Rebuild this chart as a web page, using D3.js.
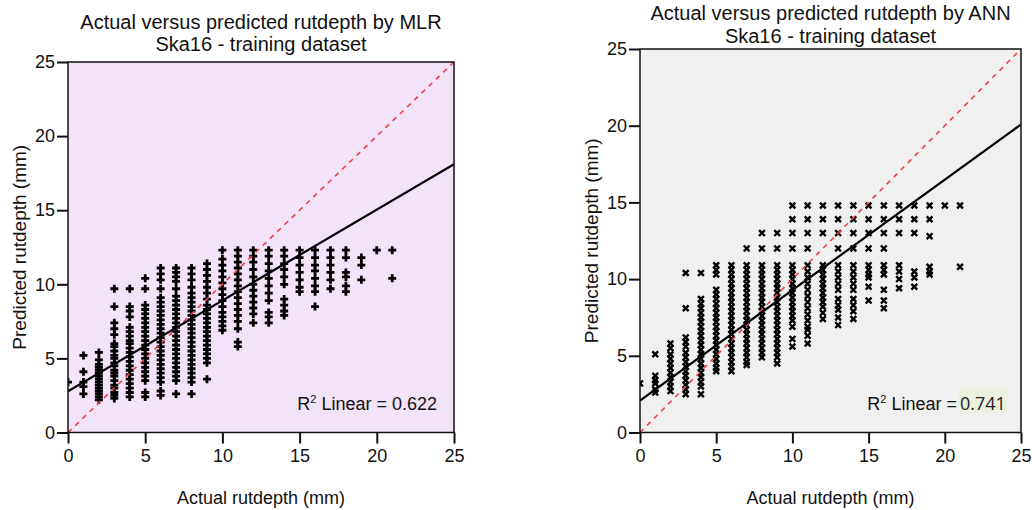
<!DOCTYPE html>
<html>
<head>
<meta charset="utf-8">
<script src="https://cdn.jsdelivr.net/npm/d3@7"></script>
<style>
  body { margin: 0; background: #fff; }
  svg { font-family: "Liberation Sans", Arial, sans-serif; }
</style>
</head>
<body>
<svg id="chart" width="1032" height="510"></svg>
<script>
// actual rutdepth (mm) for each column of points
const actualValues = [0, 1, 2, 3, 4, 5, 6, 7, 8, 9, 10, 11, 12, 13, 14, 15, 16, 17, 18, 19, 20, 21]

// MLR predictions, one list per actual value
const mlrPredicted = [
  [3.4],
  [5.2, 4.1, 3.4, 3.1, 2.6],
  [5.4, 4.9, 4.6, 4.4, 4.2, 4.0, 3.8, 3.6, 3.4, 3.2, 3.0, 2.8, 2.6, 2.4, 2.2],
  [9.7, 8.5, 7.4, 7.0, 6.6, 6.0, 5.8, 5.5, 5.2, 5.0, 4.7, 4.5, 4.2, 4.0, 3.8, 3.5, 3.2, 3.0, 2.7, 2.5, 2.3],
  [9.7, 8.5, 8.2, 7.8, 7.1, 6.8, 6.5, 6.2, 6.0, 5.7, 5.4, 5.1, 4.8, 4.5, 4.2, 3.9, 3.6, 3.3, 3.0, 2.7, 2.4],
  [10.4, 9.7, 8.6, 8.3, 8.0, 7.7, 7.4, 7.1, 6.8, 6.5, 6.2, 5.9, 5.6, 5.3, 5.0, 4.7, 4.4, 4.1, 3.8, 3.5, 2.7, 2.4],
  [11.1, 10.7, 10.3, 9.7, 9.1, 8.8, 8.5, 8.2, 7.9, 7.6, 7.3, 7.0, 6.7, 6.4, 6.1, 5.8, 5.5, 5.2, 4.9, 4.6, 4.3, 4.0, 3.7, 3.4, 2.8, 2.5],
  [11.1, 10.8, 10.5, 10.2, 9.7, 9.2, 8.9, 8.6, 8.3, 8.0, 7.7, 7.4, 7.1, 6.8, 6.5, 6.2, 5.9, 5.6, 5.3, 5.0, 4.7, 4.4, 4.1, 3.8, 3.5, 2.6],
  [11.1, 10.7, 10.3, 9.8, 9.4, 9.1, 8.8, 8.5, 8.2, 7.9, 7.6, 7.3, 7.0, 6.7, 6.4, 6.1, 5.8, 5.5, 5.2, 4.9, 4.6, 4.3, 4.0, 3.7, 3.4, 2.6],
  [11.4, 11.0, 10.6, 10.2, 9.8, 9.4, 9.0, 8.6, 8.3, 8.0, 7.7, 7.4, 7.1, 6.8, 6.5, 6.2, 5.9, 5.6, 5.3, 5.0, 4.7, 3.6],
  [12.3, 11.7, 11.3, 10.9, 10.5, 10.1, 9.7, 9.3, 8.9, 8.5, 8.1, 7.8, 7.5, 7.2, 6.9],
  [12.3, 11.9, 11.5, 11.1, 10.7, 10.3, 9.9, 9.5, 9.1, 8.7, 8.3, 7.9, 7.5, 7.0, 6.1, 5.8],
  [12.3, 11.9, 11.5, 11.0, 10.5, 10.0, 9.6, 9.2, 8.8, 8.4, 8.0, 7.4],
  [12.3, 11.9, 11.4, 10.9, 10.4, 9.9, 9.4, 8.9, 8.1, 7.8, 7.4],
  [12.3, 11.9, 11.4, 11.0, 10.5, 10.0, 9.0, 8.6, 8.2, 7.9],
  [12.3, 11.8, 11.3, 10.8, 10.3, 9.8, 9.5],
  [12.3, 11.8, 11.3, 10.9, 10.4, 9.9, 9.5, 8.5],
  [12.3, 11.8, 11.3, 10.8, 10.3, 9.7],
  [12.3, 11.8, 10.8, 10.5, 9.9, 9.5],
  [11.8, 11.3, 10.3],
  [12.3],
  [12.3, 10.4]
]

// ANN predictions, one list per actual value
const annPredicted = [
  [3.2],
  [5.1, 3.7, 3.4, 3.2, 2.8, 2.6],
  [5.8, 5.5, 5.1, 4.8, 4.5, 4.2, 3.9, 3.6, 3.3, 3.0, 2.7],
  [10.4, 8.1, 6.2, 5.9, 5.6, 5.2, 4.9, 4.6, 4.3, 4.0, 3.7, 3.4, 3.1, 2.8, 2.5],
  [10.4, 8.7, 8.4, 8.1, 7.8, 7.5, 7.2, 6.9, 6.6, 6.3, 6.0, 5.7, 5.4, 5.1, 4.8, 4.5, 4.2, 3.9, 3.6, 3.3, 3.0, 2.5],
  [10.9, 10.6, 10.3, 9.3, 9.0, 8.7, 8.4, 8.1, 7.8, 7.5, 7.2, 6.9, 6.6, 6.3, 6.0, 5.7, 5.4, 5.1, 4.8, 4.5, 4.2, 4.0],
  [10.9, 10.6, 10.3, 10.0, 9.7, 9.4, 9.1, 8.8, 8.5, 8.2, 7.9, 7.6, 7.3, 7.0, 6.7, 6.4, 6.1, 5.8, 5.5, 5.2, 4.9, 4.6, 4.3, 4.0],
  [12.0, 10.9, 10.6, 10.3, 10.0, 9.7, 9.4, 9.1, 8.8, 8.5, 8.2, 7.9, 7.6, 7.3, 7.0, 6.7, 6.4, 6.1, 5.8, 5.5, 5.2, 4.9, 4.6, 4.4],
  [13.0, 12.0, 10.9, 10.6, 10.3, 10.0, 9.7, 9.4, 9.1, 8.8, 8.5, 8.2, 7.9, 7.6, 7.3, 7.0, 6.7, 6.4, 6.1, 5.8, 5.5, 5.2, 4.9],
  [13.0, 12.0, 10.9, 10.6, 10.3, 10.0, 9.7, 9.4, 9.1, 8.8, 8.5, 8.2, 7.9, 7.6, 7.3, 7.0, 6.7, 6.4, 6.1, 5.8, 5.5, 5.2, 4.9, 4.5],
  [14.8, 13.9, 13.0, 12.0, 10.9, 10.6, 10.3, 10.0, 9.7, 9.4, 9.1, 8.8, 8.5, 8.2, 7.9, 7.6, 7.3, 6.9, 6.1, 5.6],
  [14.8, 13.9, 13.0, 12.0, 10.9, 10.5, 10.1, 9.7, 9.3, 8.9, 8.5, 8.1, 7.7, 7.3, 6.9, 6.7, 6.3, 5.8],
  [14.8, 13.9, 13.0, 10.9, 10.6, 10.3, 10.0, 9.7, 9.4, 9.1, 8.8, 8.5, 8.2, 7.8, 7.4],
  [14.8, 13.9, 13.0, 12.0, 10.9, 10.5, 10.1, 9.7, 9.3, 8.7, 8.3, 8.0, 7.5, 7.0],
  [14.8, 13.9, 13.0, 12.0, 10.9, 10.5, 10.1, 9.7, 9.3, 8.7, 8.3, 7.9, 7.4],
  [14.8, 13.9, 13.0, 12.0, 10.9, 10.6, 10.3, 10.1, 9.5, 8.6],
  [14.8, 13.9, 13.0, 12.0, 10.9, 10.6, 10.3, 9.3, 8.6, 8.1],
  [14.8, 13.9, 13.0, 10.9, 10.5, 10.0, 9.4],
  [14.8, 13.9, 13.0, 10.5, 10.1, 9.5],
  [14.8, 13.9, 12.8, 10.8, 10.5, 10.3],
  [14.8],
  [14.8, 10.8]
]

// fit line: [intercept, slope]
const mlrFit = [2.78, 0.613]
const annFit = [2.08, 0.72]
const axisTicks = [0, 5, 10, 15, 20, 25]
const axisDomain = [0, 25]

const svg = d3.select("#chart")

function panel(cfg) {
  const x = d3.scaleLinear().domain(axisDomain).range([cfg.left, cfg.right])
  const y = d3.scaleLinear().domain(axisDomain).range([cfg.bottom, cfg.top])
  const g = svg.append("g")

  const clipId = "clip" + cfg.id
  svg.append("clipPath").attr("id", clipId)
    .append("rect")
      .attr("x", cfg.left).attr("y", cfg.top)
      .attr("width", cfg.right - cfg.left).attr("height", cfg.bottom - cfg.top)

  g.append("rect")
      .attr("x", cfg.left).attr("y", cfg.top)
      .attr("width", cfg.right - cfg.left).attr("height", cfg.bottom - cfg.top)
      .attr("fill", cfg.bg)

  const pts = []
  cfg.cols.forEach((col, i) => col.forEach(v => pts.push({ a: actualValues[i], p: v })))

  const inner = g.append("g").attr("clip-path", `url(#${clipId})`)

  inner.append("g")
    .selectAll("path")
    .data(pts)
    .join("path")
      .attr("transform", d => `translate(${x(d.a)},${y(d.p)})`)
      .attr("d", cfg.marker)
      .attr("stroke", "#000")
      .attr("stroke-width", cfg.markerWidth)
      .attr("fill", "none")

  // 1:1 reference line
  inner.append("line")
      .attr("x1", x(0)).attr("y1", y(0))
      .attr("x2", x(25)).attr("y2", y(25))
      .attr("stroke", "#f2404c")
      .attr("stroke-width", 1.6)
      .attr("stroke-dasharray", "5,5")

  // linear fit
  inner.append("line")
      .attr("x1", x(0)).attr("y1", y(cfg.fit[0]))
      .attr("x2", x(25)).attr("y2", y(cfg.fit[0] + cfg.fit[1] * 25))
      .attr("stroke", "#000")
      .attr("stroke-width", 2.2)

  g.append("rect")
      .attr("x", cfg.left).attr("y", cfg.top)
      .attr("width", cfg.right - cfg.left).attr("height", cfg.bottom - cfg.top)
      .attr("fill", "none")
      .attr("stroke", "#111")
      .attr("stroke-width", 1.5)

  const xa = g.append("g")
      .attr("transform", `translate(0,${cfg.bottom})`)
      .call(d3.axisBottom(x).tickValues(axisTicks).tickSize(11).tickPadding(6).tickFormat(d3.format("d")))
  const ya = g.append("g")
      .attr("transform", `translate(${cfg.left},0)`)
      .call(d3.axisLeft(y).tickValues(axisTicks).tickSize(11).tickPadding(2).tickFormat(d3.format("d")))
  ;[xa, ya].forEach(a => {
    a.select(".domain").remove()
    a.selectAll("line").attr("stroke", "#111").attr("stroke-width", 2)
    a.selectAll("text").attr("fill", "#111")
      .style("font-size", "18px").style("font-family", "Liberation Sans, Arial, sans-serif")
  })

  const cx = (cfg.left + cfg.right) / 2
  g.append("text")
      .attr("x", cx).attr("y", cfg.titleY[0])
      .attr("text-anchor", "middle")
      .style("font-size", "20px")
      .attr("fill", "#111")
      .text(cfg.title)
  g.append("text")
      .attr("x", cx).attr("y", cfg.titleY[1])
      .attr("text-anchor", "middle")
      .style("font-size", "20px")
      .attr("fill", "#111")
      .text("Ska16 - training dataset")

  g.append("text")
      .attr("x", cx).attr("y", 504)
      .attr("text-anchor", "middle")
      .style("font-size", "18px")
      .attr("fill", "#111")
      .text("Actual rutdepth (mm)")

  g.append("text")
      .attr("transform", `translate(${cfg.yLabelX},${(cfg.top + cfg.bottom) / 2}) rotate(-90)`)
      .attr("text-anchor", "middle")
      .style("font-size", "19px")
      .attr("fill", "#111")
      .text("Predicted rutdepth (mm)")

  // R² annotation
  const r2 = g.append("text")
      .attr("x", cfg.r2X).attr("y", 410)
      .attr("text-anchor", "end")
      .style("font-size", "18px")
      .attr("fill", "#111")
  r2.append("tspan").text("R")
  r2.append("tspan").attr("dy", -7).style("font-size", "11px").text("2")
  r2.append("tspan").attr("dy", 7).text(cfg.r2Highlight ? " Linear =" : " Linear = " + cfg.r2)

  if (cfg.r2Highlight) {
    const hl = g.append("g")
    const bgRect = hl.append("rect").attr("fill", "#ebf1df")
    const t = hl.append("text")
        .attr("x", cfg.r2X + 3).attr("y", 410)
        .style("font-size", "18px")
        .style("font-family", "Open Sans, sans-serif")
        .attr("fill", "#222")
        .text(cfg.r2)
    const bb = t.node().getBBox()
    bgRect.attr("x", bb.x - 2).attr("y", 388)
        .attr("width", bb.width + 5).attr("height", 25)
  }
}

panel({
  id: 1, left: 68, right: 454, top: 62, bottom: 432.5, bg: "#f2e3f9",
  cols: mlrPredicted, fit: mlrFit,
  marker: "M-4,0H4M0,-4V4", markerWidth: 2.8,
  title: "Actual versus predicted rutdepth by MLR", titleY: [29, 51],
  yLabelX: 26, r2X: 437, r2: "0.622"
})

panel({
  id: 2, left: 640, right: 1021, top: 49, bottom: 432.5, bg: "#f0f0f0",
  cols: annPredicted, fit: annFit,
  marker: "M-2.9,-2.9L2.9,2.9M-2.9,2.9L2.9,-2.9", markerWidth: 2.4,
  title: "Actual versus predicted rutdepth by ANN", titleY: [20, 43],
  yLabelX: 598, r2X: 957, r2: "0.741", r2Highlight: true
})
</script>
</body>
</html>
